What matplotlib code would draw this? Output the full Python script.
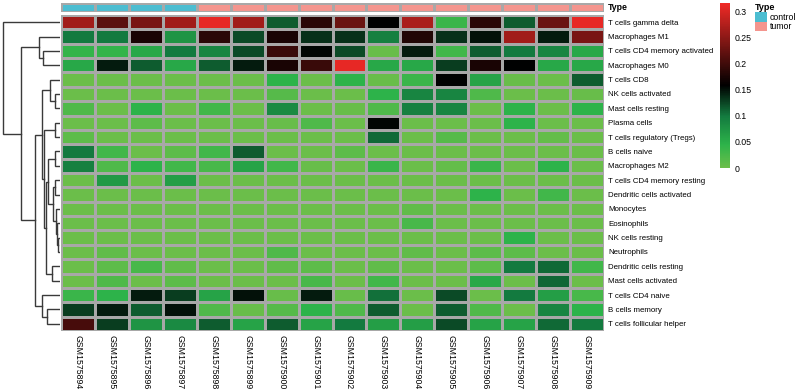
import numpy as np
import matplotlib
matplotlib.use('Agg')
import matplotlib.pyplot as plt
from matplotlib.colors import LinearSegmentedColormap, ListedColormap
from matplotlib.patches import Patch

plt.rcParams['font.family'] = ['Liberation Sans', 'DejaVu Sans']

# ── data ──────────────────────────────────────────────────────────────────────
samples = ['GSM1575894', 'GSM1575895', 'GSM1575896', 'GSM1575897',
           'GSM1575898', 'GSM1575899', 'GSM1575900', 'GSM1575901',
           'GSM1575902', 'GSM1575903', 'GSM1575904', 'GSM1575905',
           'GSM1575906', 'GSM1575907', 'GSM1575908', 'GSM1575909']
sample_type = ['control'] * 4 + ['tumor'] * 12

cell_types = [
    'T cells gamma delta', 'Macrophages M1', 'T cells CD4 memory activated',
    'Macrophages M0', 'T cells CD8', 'NK cells activated', 'Mast cells resting',
    'Plasma cells', 'T cells regulatory (Tregs)', 'B cells naive',
    'Macrophages M2', 'T cells CD4 memory resting', 'Dendritic cells activated',
    'Monocytes', 'Eosinophils', 'NK cells resting', 'Neutrophils',
    'Dendritic cells resting', 'Mast cells activated', 'T cells CD4 naive',
    'B cells memory', 'T cells follicular helper',
]

fractions = np.array([
    [0.264, 0.218, 0.238, 0.264, 0.310, 0.264, 0.115, 0.186, 0.228, 0.158, 0.270, 0.035, 0.186, 0.115, 0.228, 0.310],
    [0.100, 0.100, 0.175, 0.075, 0.186, 0.123, 0.175, 0.135, 0.135, 0.095, 0.180, 0.135, 0.151, 0.264, 0.146, 0.238],
    [0.040, 0.040, 0.055, 0.100, 0.090, 0.123, 0.196, 0.156, 0.123, 0.003, 0.146, 0.030, 0.115, 0.100, 0.090, 0.055],
    [0.055, 0.146, 0.115, 0.055, 0.115, 0.146, 0.175, 0.196, 0.310, 0.055, 0.055, 0.130, 0.175, 0.158, 0.055, 0.055],
    [0.000, 0.000, 0.000, 0.000, 0.000, 0.000, 0.045, 0.000, 0.045, 0.003, 0.035, 0.158, 0.060, 0.003, 0.000, 0.115],
    [0.000, 0.000, 0.000, 0.000, 0.000, 0.000, 0.015, 0.000, 0.000, 0.045, 0.090, 0.090, 0.020, 0.000, 0.000, 0.003],
    [0.020, 0.000, 0.045, 0.000, 0.030, 0.000, 0.085, 0.000, 0.003, 0.020, 0.095, 0.090, 0.000, 0.045, 0.000, 0.045],
    [0.000, 0.000, 0.010, 0.000, 0.000, 0.000, 0.003, 0.020, 0.000, 0.155, 0.000, 0.000, 0.000, 0.045, 0.000, 0.000],
    [0.010, 0.000, 0.000, 0.000, 0.000, 0.000, 0.000, 0.000, 0.000, 0.108, 0.000, 0.015, 0.000, 0.000, 0.005, 0.000],
    [0.100, 0.030, 0.000, 0.010, 0.030, 0.115, 0.000, 0.000, 0.010, 0.000, 0.000, 0.000, 0.000, 0.000, 0.000, 0.000],
    [0.095, 0.020, 0.045, 0.030, 0.025, 0.060, 0.030, 0.003, 0.000, 0.035, 0.000, 0.005, 0.035, 0.000, 0.045, 0.000],
    [0.000, 0.070, 0.000, 0.065, 0.000, 0.000, 0.000, 0.000, 0.000, 0.000, 0.000, 0.000, 0.000, 0.000, 0.000, 0.000],
    [0.000, 0.000, 0.000, 0.000, 0.000, 0.000, 0.000, 0.000, 0.000, 0.000, 0.000, 0.000, 0.045, 0.000, 0.030, 0.000],
    [0.000, 0.000, 0.000, 0.000, 0.000, 0.000, 0.000, 0.000, 0.000, 0.000, 0.008, 0.000, 0.000, 0.000, 0.000, 0.000],
    [0.000, 0.000, 0.000, 0.000, 0.000, 0.000, 0.000, 0.000, 0.000, 0.000, 0.025, 0.000, 0.000, 0.000, 0.000, 0.000],
    [0.000, 0.000, 0.000, 0.000, 0.000, 0.000, 0.000, 0.000, 0.000, 0.000, 0.000, 0.000, 0.000, 0.045, 0.000, 0.000],
    [0.000, 0.008, 0.000, 0.000, 0.000, 0.000, 0.020, 0.000, 0.000, 0.000, 0.008, 0.000, 0.010, 0.010, 0.000, 0.000],
    [0.000, 0.010, 0.025, 0.008, 0.000, 0.000, 0.008, 0.010, 0.000, 0.008, 0.000, 0.000, 0.010, 0.100, 0.108, 0.030],
    [0.000, 0.020, 0.000, 0.010, 0.000, 0.000, 0.000, 0.025, 0.000, 0.030, 0.000, 0.000, 0.055, 0.000, 0.110, 0.000],
    [0.035, 0.045, 0.146, 0.130, 0.060, 0.151, 0.003, 0.146, 0.003, 0.105, 0.000, 0.123, 0.000, 0.100, 0.065, 0.025],
    [0.130, 0.146, 0.115, 0.151, 0.020, 0.003, 0.015, 0.045, 0.020, 0.115, 0.000, 0.115, 0.020, 0.000, 0.090, 0.045],
    [0.205, 0.130, 0.075, 0.085, 0.115, 0.060, 0.115, 0.060, 0.100, 0.065, 0.065, 0.123, 0.060, 0.060, 0.108, 0.100],
])

# row clustering: (left, right, height); ids >= 22 are earlier merges
row_linkage = [
    (5, 6, 5), (4, 22, 10), (7, 8, 5), (9, 10, 5), (11, 12, 5),
    (15, 16, 2), (14, 27, 3), (13, 28, 4), (26, 29, 7), (25, 30, 12),
    (17, 18, 8), (31, 32, 14), (24, 33, 16), (23, 34, 18),
    (20, 21, 13), (19, 36, 18), (35, 37, 25),
    (2, 3, 17), (1, 39, 21), (40, 38, 39), (0, 41, 57),
]

type_colors = {'control': '#4CBDD1', 'tumor': '#F4958E'}
cmap = LinearSegmentedColormap.from_list('gbr', [
    (0.0, '#6BBE4A'), (0.14, '#2DB34A'), (0.315, '#137A3F'),
    (0.5, '#000000'), (1.0, '#F02A26')])
vmin, vmax = 0.0, 0.317

# ── layout helpers (pixel boxes) ──────────────────────────────────────────────
W, H = 800, 391
fig = plt.figure(figsize=(W / 100, H / 100), dpi=100)

def px_axes(x0, y0, x1, y1):
    return fig.add_axes([x0 / W, 1 - y1 / H, (x1 - x0) / W, (y1 - y0) / H])

n_rows, n_cols = fractions.shape
grid_kw = dict(edgecolors='#A8A8A8', linewidth=0.75)

# ── heatmap ───────────────────────────────────────────────────────────────────
ax = px_axes(61, 15, 604, 331)
mesh = ax.pcolormesh(fractions, cmap=cmap, vmin=vmin, vmax=vmax, **grid_kw)
ax.set_xlim(0, n_cols)
ax.set_ylim(n_rows, 0)
ax.yaxis.tick_right()
ax.set_yticks(np.arange(n_rows) + 0.5)
ax.set_yticklabels(cell_types, fontsize=5.7)
ax.set_xticks(np.arange(n_cols) + 0.5)
ax.set_xticklabels(samples, fontsize=6.3, rotation=270, va='top', ha='center')
ax.tick_params(length=0, pad=3)
for s in ax.spines.values():
    s.set_visible(False)

# ── annotation bar ────────────────────────────────────────────────────────────
ax_ann = px_axes(61, 3, 604, 12)
type_levels = list(type_colors)
codes = np.array([[type_levels.index(t) for t in sample_type]])
ax_ann.pcolormesh(codes, cmap=ListedColormap([type_colors[t] for t in type_levels]),
                  vmin=-0.5, vmax=len(type_levels) - 0.5, **grid_kw)
ax_ann.set_xlim(0, n_cols)
ax_ann.set_xticks([])
ax_ann.set_yticks([])
for s in ax_ann.spines.values():
    s.set_visible(False)
fig.text(608 / W, 1 - 8 / H, 'Type', fontsize=6.3, fontweight='bold', va='center')

# ── row dendrogram ────────────────────────────────────────────────────────────
ax_d = px_axes(2, 15, 60, 331)
pos = {i: (i + 0.5, 0.0) for i in range(n_rows)}
for k, (a, b, h) in enumerate(row_linkage):
    ya, ha_ = pos[a]
    yb, hb = pos[b]
    ax_d.plot([ha_, h, h, hb], [ya, ya, yb, yb], color='#3A3A3A', lw=1.0,
              solid_joinstyle='miter')
    pos[n_rows + k] = ((ya + yb) / 2, h)
ax_d.set_xlim(58, 0)
ax_d.set_ylim(n_rows, 0)
ax_d.axis('off')

# ── colour bar ────────────────────────────────────────────────────────────────
cax = px_axes(720, 3, 730, 168)
cb = fig.colorbar(mesh, cax=cax)
cb.set_ticks([0, 0.05, 0.1, 0.15, 0.2, 0.25, 0.3])
cb.set_ticklabels(['0', '0.05', '0.1', '0.15', '0.2', '0.25', '0.3'])
cb.outline.set_visible(False)
cax.tick_params(length=0, pad=3.5, labelsize=6.3)

# ── legend ────────────────────────────────────────────────────────────────────
handles = [Patch(facecolor=type_colors[t], edgecolor='none', label=t) for t in type_levels]
fig.legend(handles=handles, title='Type', loc='upper left',
           bbox_to_anchor=(753 / W, 1 - 1.5 / H), frameon=False, fontsize=6.3,
           title_fontproperties={'weight': 'bold', 'size': 6.5},
           alignment='left', handlelength=1.45, handleheight=1.25,
           labelspacing=0.0, handletextpad=0.3, borderpad=0.2, borderaxespad=0)

fig.savefig('out.png', dpi=100)
